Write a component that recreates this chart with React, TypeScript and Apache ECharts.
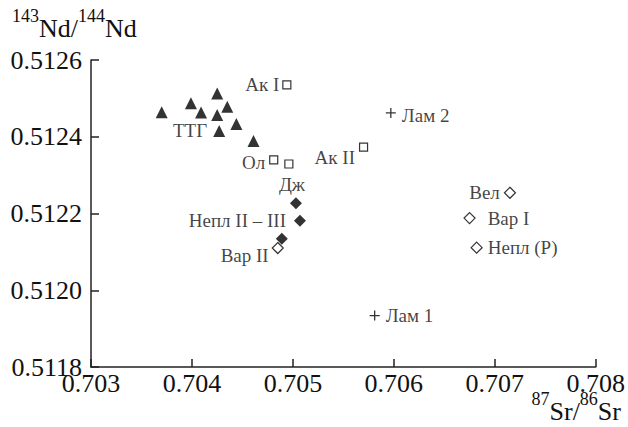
import React, { useEffect, useRef } from "react";
import * as echarts from "echarts";

// --- Data ---
const ttgNames = ["", "", "", "", "", "", "ТТГ", "", ""];
const ttgSr = [0.7037, 0.70399, 0.70425, 0.70409, 0.70435, 0.70425, 0.70427, 0.70444, 0.70461];
const ttgNd = [0.512464, 0.512487, 0.512513, 0.512463, 0.512478, 0.512457, 0.512415, 0.512433, 0.512389];

const squareNames = ["Ак I", "Ол", "", "Ак II"];
const squareSr = [0.70494, 0.70481, 0.70496, 0.7057];
const squareNd = [0.512535, 0.51234, 0.512329, 0.512373];

const filledDiamondNames = ["Дж", "Непл II – III", ""];
const filledDiamondSr = [0.70503, 0.70507, 0.70489];
const filledDiamondNd = [0.512227, 0.512181, 0.512134];

const openDiamondNames = ["Вар II", "Вел", "Вар I", "Непл (Р)"];
const openDiamondSr = [0.70485, 0.70715, 0.70675, 0.70682];
const openDiamondNd = [0.51211, 0.512254, 0.512188, 0.512111];

const plusNames = ["Лам 2", "Лам 1"];
const plusSr = [0.70597, 0.70581];
const plusNd = [0.512462, 0.511934];

const xMin = 0.703;
const xMax = 0.708;
const xStep = 0.001;
const yMin = 0.5118;
const yMax = 0.5126;
const yStep = 0.0002;

// --- Label placement (style only) ---
const labelPlacement: Record<string, any> = {
  "Ак I": { position: "left", distance: 3 },
  "ТТГ": { position: "left", distance: 6 },
  "Ол": { position: "left", distance: 4, offset: [0, 3] },
  "Ак II": { position: "left", distance: 4, offset: [0, 10] },
  "Дж": { position: "top", distance: 3, offset: [-4, 0] },
  "Непл II – III": { position: "left", distance: 8 },
  "Вар II": { position: "left", distance: 3, offset: [0, 7] },
  "Вел": { position: "left", distance: 4 },
  "Вар I": { position: "right", distance: 12 },
  "Непл (Р)": { position: "right", distance: 5 },
  "Лам 2": { position: "right", distance: 6, offset: [0, 3] },
  "Лам 1": { position: "right", distance: 6 },
};

const FONT = "Liberation Serif";
const INK = "#111";

function build(names: string[], xs: number[], ys: number[]) {
  return names.map((n, i) => ({
    name: n,
    value: [xs[i], ys[i]],
    label: n
      ? { show: true, formatter: n, ...labelPlacement[n] }
      : { show: false },
  }));
}

const labelStyle = {
  fontFamily: FONT,
  fontSize: 19,
  color: INK,
};

const plusPath =
  "path://M4.35,0h1.3v4.35h4.35v1.3h-4.35v4.35h-1.3v-4.35h-4.35v-1.3h4.35z";

const richSup = {
  s: { fontFamily: FONT, fontSize: 18, lineHeight: 18, verticalAlign: "top", fill: INK },
  m: { fontFamily: FONT, fontSize: 26, lineHeight: 34, verticalAlign: "bottom", fill: INK },
};

export default function App() {
  const ref = useRef<HTMLDivElement>(null);
  useEffect(() => {
    if (!ref.current) return;
    const chart = echarts.init(ref.current, undefined, { renderer: "svg" });
    const axisCommon = {
      type: "value",
      splitLine: { show: false },
      axisLine: { show: true, onZero: false, lineStyle: { color: "#222", width: 1.5 } },
      axisTick: { show: true, inside: true, length: 8, lineStyle: { color: "#222", width: 1.5 } },
    };
    const option: any = {
      animation: false,
      backgroundColor: "#fff",
      textStyle: { fontFamily: FONT },
      grid: { left: 91, right: 32, top: 60, bottom: 60 },
      xAxis: {
        ...axisCommon,
        min: xMin,
        max: xMax,
        interval: xStep,
        axisLabel: {
          fontFamily: FONT,
          fontSize: 26,
          lineHeight: 26,
          color: INK,
          margin: 3,
          formatter: (v: number) => v.toFixed(3),
        },
      },
      yAxis: {
        ...axisCommon,
        min: yMin,
        max: yMax,
        interval: yStep,
        axisLabel: {
          fontFamily: FONT,
          fontSize: 26,
          color: INK,
          margin: 9,
          formatter: (v: number) => v.toFixed(4),
        },
      },
      graphic: [
        {
          type: "text",
          left: 12,
          top: 7,
          style: {
            text: "{s|143}{m|Nd/}{s|144}{m|Nd}",
            fontFamily: FONT,
            rich: richSup,
          },
        },
        {
          type: "text",
          right: 7,
          top: 390,
          style: {
            text: "{s|87}{m|Sr/}{s|86}{m|Sr}",
            fontFamily: FONT,
            rich: richSup,
          },
        },
      ],
      series: [
        {
          type: "scatter",
          symbol: "triangle",
          symbolSize: 12,
          itemStyle: { color: "#000" },
          label: labelStyle,
          data: build(ttgNames, ttgSr, ttgNd),
        },
        {
          type: "scatter",
          symbol: "rect",
          symbolSize: 8,
          itemStyle: { color: "#fff", borderColor: "#000", borderWidth: 1.2 },
          label: labelStyle,
          data: build(squareNames, squareSr, squareNd),
        },
        {
          type: "scatter",
          symbol: "diamond",
          symbolSize: 12,
          itemStyle: { color: "#000" },
          label: labelStyle,
          data: build(filledDiamondNames, filledDiamondSr, filledDiamondNd),
        },
        {
          type: "scatter",
          symbol: "diamond",
          symbolSize: 11,
          itemStyle: { color: "#fff", borderColor: "#000", borderWidth: 1.2 },
          label: labelStyle,
          data: build(openDiamondNames, openDiamondSr, openDiamondNd),
        },
        {
          type: "scatter",
          symbol: plusPath,
          symbolSize: 10,
          itemStyle: { color: "#000" },
          label: labelStyle,
          data: build(plusNames, plusSr, plusNd),
        },
      ],
    };
    chart.setOption(option);
    return () => chart.dispose();
  }, []);
  return (
    <div
      ref={ref}
      style={{ position: "fixed", left: 0, top: 0, width: 628, height: 427, background: "#fff" }}
    />
  );
}
